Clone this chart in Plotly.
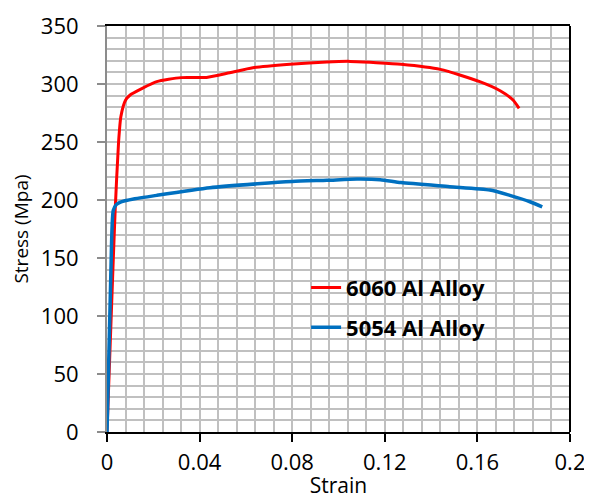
import plotly.graph_objects as go

strain_6060 = [0, 0.002, 0.0035, 0.005, 0.006, 0.008, 0.01, 0.015, 0.0215, 0.032, 0.043, 0.053, 0.063,
               0.079, 0.095, 0.105, 0.115, 0.127, 0.144, 0.161, 0.170, 0.1755, 0.178]
stress_6060 = [0, 110, 190, 250, 272, 286, 290.5, 296, 302, 305.5, 305.7, 309.7, 314,
               317, 319, 319.5, 318.5, 317, 312.6, 302, 294, 286, 279]

strain_5054 = [0, 0.0017, 0.0027, 0.004, 0.0056, 0.012, 0.0215, 0.0445, 0.065, 0.08, 0.095, 0.108,
               0.118, 0.127, 0.148, 0.1654, 0.174, 0.1827, 0.188]
stress_5054 = [0, 140, 191, 196, 198, 201, 204, 210.6, 214, 216, 217, 218,
               217.5, 215, 211.5, 208.6, 204, 198.5, 194]

x_ticks = [0, 0.04, 0.08, 0.12, 0.16, 0.2]
x_ticklabels = ["0", "0.04", "0.08", "0.12", "0.16", "0.2"]
y_ticks = [0, 50, 100, 150, 200, 250, 300, 350]

font = "Open Sans"
grid = "#c0c0c0"

fig = go.Figure()
fig.add_trace(go.Scatter(x=strain_6060, y=stress_6060, mode="lines", name="6060 Al Alloy",
                         legendgroup="a",
                         line=dict(color="#ff0000", width=3, shape="spline", smoothing=0.6)))
fig.add_trace(go.Scatter(x=strain_5054, y=stress_5054, mode="lines", name="5054 Al Alloy",
                         legendgroup="b",
                         line=dict(color="#0070c0", width=3.5, shape="spline", smoothing=0.6)))

fig.update_layout(
    width=584, height=491,
    margin=dict(l=99, r=22, t=18, b=67),
    plot_bgcolor="white", paper_bgcolor="white",
    font=dict(family=font, color="black"),
    legend=dict(x=0.43, y=0.306, xanchor="left", yanchor="middle",
                bgcolor="rgba(0,0,0,0)", font=dict(size=22, family=font, weight="bold"),
                tracegroupgap=8, traceorder="grouped"),
    xaxis=dict(range=[0, 0.2], tickvals=x_ticks, ticktext=x_ticklabels, automargin=False,
               showgrid=True, gridcolor=grid, gridwidth=1.5,
               minor=dict(dtick=0.008, showgrid=True, gridcolor=grid, gridwidth=1.5),
               showline=True, linecolor="black", linewidth=2, mirror=True,
               ticks="outside", ticklen=8, tickcolor="black", tickwidth=1.5,
               tickfont=dict(size=22), zeroline=False, ticklabelstandoff=2,
               title=dict(text="Strain", font=dict(size=21), standoff=0)),
    yaxis=dict(range=[0, 350], tickvals=y_ticks, automargin=False,
               showgrid=True, gridcolor=grid, gridwidth=1.5,
               minor=dict(dtick=10, showgrid=True, gridcolor=grid, gridwidth=1.5),
               showline=True, linecolor="#8c8c8c", linewidth=2,
               ticks="outside", ticklen=8, tickcolor="#8c8c8c", tickwidth=1.5,
               tickfont=dict(size=22), zeroline=False, ticklabelstandoff=14,
               title=dict(text="Stress (Mpa)", font=dict(size=19), standoff=9)),
    shapes=[dict(type="line", xref="paper", yref="paper", x0=1, x1=1, y0=0, y1=1,
                 line=dict(color="black", width=2))],
)

fig.write_html("out.html")
